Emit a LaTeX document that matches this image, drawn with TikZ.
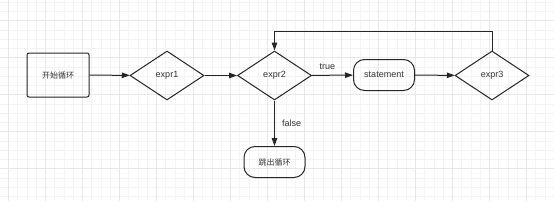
\documentclass[tikz,border=0pt]{standalone}
\usepackage{fontspec}
\setmainfont{Liberation Sans}
\newfontfamily\cjk{Noto Sans CJK SC}
\usepackage{xcolor}
\definecolor{flowline}{HTML}{262626}
\definecolor{flowtext}{HTML}{333333}
\definecolor{gridminor}{HTML}{F3F3F3}
\definecolor{gridmajor}{HTML}{E8E8E8}
\usepackage{tikz}
\usetikzlibrary{shapes.geometric,arrows.meta,positioning,calc}

\begin{document}
\begin{tikzpicture}[x=1pt, y=-1pt,
      startbox/.style={draw=flowline, line width=1pt, rounded corners=2pt, minimum width=62pt, minimum height=44pt, inner sep=0pt, font=\cjk\fontsize{8}{9}\selectfont, text=flowtext},
      decision/.style={draw=flowline, line width=1pt, diamond, minimum width=74pt, minimum height=49pt, inner sep=0pt, font=\fontsize{9}{10}\selectfont, text=flowtext},
      term/.style={draw=flowline, line width=1pt, rounded corners=11pt, minimum width=61pt, minimum height=31pt, inner sep=0pt, font=\fontsize{9}{10}\selectfont, text=flowtext},
      arr/.style={draw=flowline, line width=1pt, -{Triangle[length=8pt,width=5.5pt]}},
      lbl/.style={font=\fontsize{9}{10}\selectfont, text=flowtext, inner sep=1pt}
    ]
    \useasboundingbox (0,0) rectangle (554,201);
    \fill[white] (0,0) rectangle (554,201);
    % background grid
    \foreach \i in {0,...,60} { \draw[gridminor, line width=0.6pt] ({-0.95+9.25*\i},0) -- ++(0,201); }
    \foreach \j in {0,...,21} { \draw[gridminor, line width=0.6pt] (0,{2.2+9.25*\j}) -- ++(554,0); }
    \foreach \i in {0,...,14} { \draw[gridmajor, line width=0.6pt] ({8.3+37*\i},0) -- ++(0,201); }
    \foreach \j in {0,...,5} { \draw[gridmajor, line width=0.6pt] (0,{20.7+37*\j}) -- ++(554,0); }
    % flow
    \node[startbox] (start) at (58,75) {开始循环};
    \node[decision] (e1) at (167,75.5) {expr1};
    \node[decision] (e2) at (274.5,75.5) {expr2};
    \node[term] (stmt) at (384,75) {statement};
    \node[decision] (e3) at (492,75.5) {expr3};
    \node[term, font=\cjk\fontsize{8}{9}\selectfont] (exit) at (274.5,162) {跳出循环};
    \draw[arr] (start) -- (e1);
    \draw[arr] (e1) -- (e2);
    \draw[arr] (e2) -- node[lbl, above=4pt, xshift=-5pt] {true} (stmt);
    \draw[arr] (stmt) -- (e3);
    \draw[arr] (e3.north) -- ++(0,-19) -| (e2.north);
    \draw[arr] (e2.south) -- node[lbl, right=6pt] {false} (exit);
  \end{tikzpicture}
\end{document}
